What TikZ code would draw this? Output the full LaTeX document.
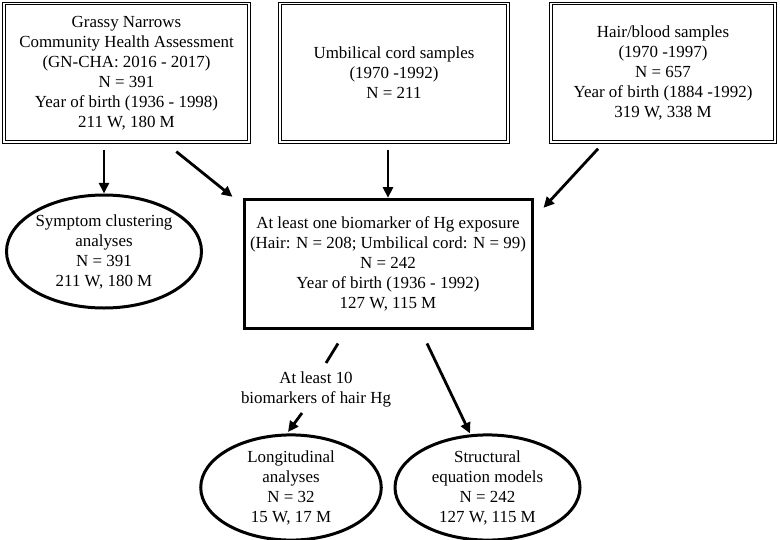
\documentclass[tikz,border=0pt]{standalone}
\usepackage{fontspec}
\setmainfont{Liberation Serif}
\usetikzlibrary{shapes.geometric,arrows.meta}
\newcommand{\boxfont}{\fontsize{12.7}{15}\selectfont}
\tikzset{
  srcbox/.style={draw, double, double distance=0.9pt, line width=0.9pt, inner sep=0pt,
    minimum height=104pt, align=center, font=\boxfont},
  mainbox/.style={draw, line width=2.25pt, inner sep=0pt, minimum width=216pt,
    minimum height=96.75pt, align=center, font=\boxfont},
  result/.style={draw, ellipse, line width=2.25pt, inner sep=0pt, align=center, font=\boxfont},
  note/.style={inner sep=0pt, align=center, font=\boxfont},
  link/.style={line width=2.1pt, -{Triangle[length=8pt,width=7.5pt]}},
  linkplain/.style={line width=2.1pt}
}

\begin{document}
\begin{tikzpicture}[x=0.75pt, y=-0.75pt]
  \useasboundingbox (0,0) rectangle (780,539);
  % sources
  \node[srcbox, minimum width=183.75pt] (gncha) at (126.5,72.7)
    {Grassy Narrows\\Community Health Assessment\\(GN-CHA: 2016 - 2017)\\N = 391\\Year of birth (1936 - 1998)\\211 W, 180 M};
  \node[srcbox, minimum width=171pt] (cord) at (394,72.7)
    {Umbilical cord samples\\(1970 -1992)\\N = 211};
  \node[srcbox, minimum width=168pt] (hair) at (663,72.7)
    {Hair/blood samples\\(1970 -1997)\\N = 657\\Year of birth (1884 -1992)\\319 W, 338 M};
  % merged sample
  \node[mainbox] (hg) at (388,263.8)
    {At least one biomarker of Hg exposure\\(Hair: N = 208; Umbilical cord: N = 99)\\N = 242\\Year of birth (1936 - 1992)\\127 W, 115 M};
  % analyses
  \node[result, minimum width=146.25pt, minimum height=84.75pt] (sympt) at (104,251.5)
    {Symptom clustering\\analyses\\N = 391\\211 W, 180 M};
  \node[result, minimum width=135.4pt, minimum height=76.5pt] (longi) at (291,487.5)
    {Longitudinal\\analyses\\N = 32\\15 W, 17 M};
  \node[result, minimum width=138.75pt, minimum height=76.5pt] (sem) at (487.5,487.5)
    {Structural\\equation models\\N = 242\\127 W, 115 M};
  \node[note] (crit) at (316,389) {At least 10\\biomarkers of hair Hg};

  \draw[link, shorten <=5.25pt] (sympt.north |- gncha.south) -- (sympt.north);
  \draw[link, shorten <=10.7pt] ([xshift=29pt]gncha.south) -- ([xshift=-7.5pt,yshift=0.75pt]hg.north west);
  \draw[link, shorten <=5.25pt] (hg.north |- cord.south) -- (hg.north);
  \draw[link, shorten <=6.2pt] ([xshift=-44.5pt]hair.south) -- ([xshift=7.5pt,yshift=-7.5pt]hg.north east);
  \draw[linkplain] ([xshift=-37.5pt,yshift=-10.25pt]hg.south) -- ([xshift=7.5pt,yshift=19.5pt]crit.center);
  \draw[link] ([xshift=-10.5pt,yshift=-18pt]crit.center) -- ([xshift=-2.25pt,yshift=1.1pt]longi.north);
  \draw[link] ([xshift=29.25pt,yshift=-10.25pt]hg.south) -- ([xshift=-13.1pt]sem.north);
\end{tikzpicture}
\end{document}
